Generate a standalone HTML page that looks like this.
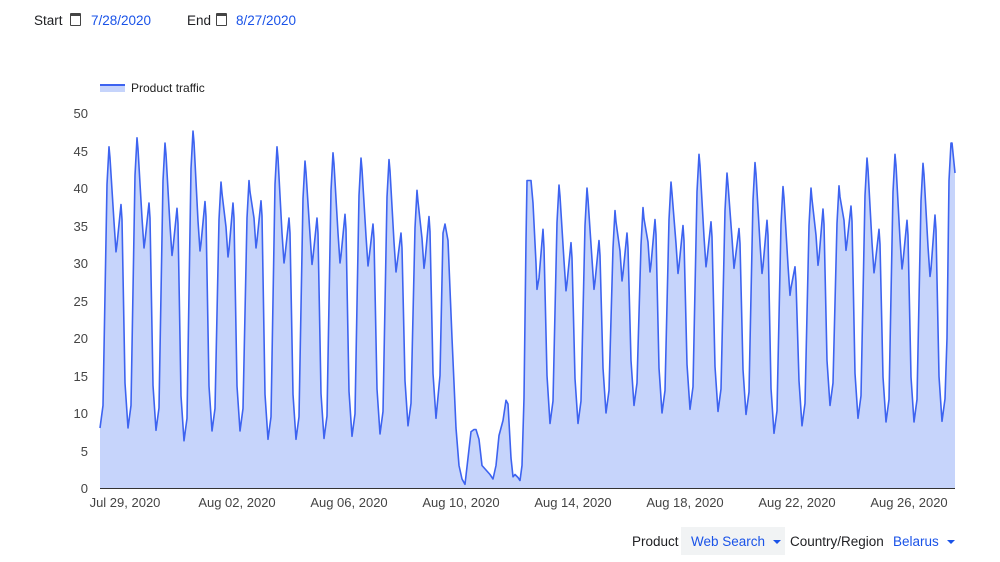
<!DOCTYPE html>
<html><head><meta charset="utf-8"><style>
body{margin:0;width:1000px;height:562px;background:#fff;font-family:"Liberation Sans",sans-serif;position:relative;overflow:hidden}
.t{position:absolute;font-size:13.5px;white-space:nowrap}
.lbl{color:#202124}.blue{color:#1a53e8}
.cal{display:inline-block;width:9px;height:9px;border:1.5px solid #444;border-top-width:3px;border-radius:1px;vertical-align:-1px}
.tri{display:inline-block;width:0;height:0;border-left:4px solid transparent;border-right:4px solid transparent;border-top:4px solid #1a53e8;vertical-align:2px;margin-left:8px}
</style></head><body>
<div class="t lbl" style="left:34px;top:13px">Start</div>
<div class="t" style="left:70px;top:13px"><span class="cal"></span></div>
<div class="t blue" style="left:91px;top:13px">7/28/2020</div>
<div class="t lbl" style="left:187px;top:13px">End</div>
<div class="t" style="left:216px;top:13px"><span class="cal"></span></div>
<div class="t blue" style="left:236px;top:13px">8/27/2020</div>
<svg width="1000" height="562" style="position:absolute;left:0;top:0" font-family="Liberation Sans, sans-serif">
<rect x="100" y="84" width="25" height="8" fill="#c6d4fb"/><line x1="100" y1="85" x2="125" y2="85" stroke="#3d63f0" stroke-width="2"/>
<text x="131" y="92" font-size="12" fill="#222">Product traffic</text>
<g font-size="13" fill="#444" text-anchor="end">
<text x="88" y="118">50</text><text x="88" y="156">45</text><text x="88" y="193">40</text><text x="88" y="231">35</text><text x="88" y="268">30</text><text x="88" y="306">25</text><text x="88" y="343">20</text><text x="88" y="381">15</text><text x="88" y="418">10</text><text x="88" y="456">5</text><text x="88" y="493">0</text>
</g>
<path id="area" fill="#c6d4fb" stroke="none"/>
<path id="line" fill="none" stroke="#3d63f0" stroke-width="1.6" stroke-linejoin="round"/>
<line x1="100" y1="488.5" x2="955" y2="488.5" stroke="#333" stroke-width="1"/>
<g font-size="13" fill="#444" text-anchor="middle">
<text x="125" y="507">Jul 29, 2020</text><text x="237" y="507">Aug 02, 2020</text><text x="349" y="507">Aug 06, 2020</text><text x="461" y="507">Aug 10, 2020</text><text x="573" y="507">Aug 14, 2020</text><text x="685" y="507">Aug 18, 2020</text><text x="797" y="507">Aug 22, 2020</text><text x="909" y="507">Aug 26, 2020</text>
</g>
</svg>
<div class="t lbl" style="left:632px;top:534px">Product</div>
<div style="position:absolute;left:681px;top:527px;width:104px;height:28px;background:#f1f3f4"></div>
<div class="t blue" style="left:691px;top:534px">Web Search<span class="tri"></span></div>
<div class="t lbl" style="left:790px;top:534px">Country/Region</div>
<div class="t blue" style="left:893px;top:534px">Belarus<span class="tri"></span></div>
<script>
var Y=function(v){return 488-v*7.5};
var days=[[45.5,31.5,37.8,8],[46.7,32,38,7.7],[46,31,37.3,6.3],[47.6,31.6,38.2,7.6],[40.8,30.8,38,7.6],[41,32,38.3,6.5],[45.5,30,36,6.5],[43.6,29.8,36,6.6],[44.7,30,36.5,6.9],[44,29.6,35.2,7.2],[43.8,28.8,34,8.3],[39.7,29.3,36.2,9.3]];
var pts=[[100,8]];
function day(x0,p,d,q,mn,m0){pts.push([x0+3,m0+3],[x0+7,p-5],[x0+9,p],[x0+10,p-1.5],[x0+14,d+4],[x0+16,d],[x0+17,d+1],[x0+21,q],[x0+22,q-2],[x0+25,mn+6],[x0+28,mn]);}
var m0=8;
days.forEach(function(a,k){day(100+28*k,a[0],a[1],a[2],a[3],m0);m0=a[3];});
pts.push([440,15],[443,34],[445,35.2],[448,33],[452,20],[456,8],[459,3],[462,1.2],[465,0.5],[468,4],[471,7.5],[474,7.8],[476,7.8],[479,6.5],[482,3],[486,2.4],[490,1.8],[493,1.2],[496,3],[499,7],[503,9],[506,11.7],[508,11.2],[511,4],[513,1.5],[515,1.8],[518,1.4],[520,1],[522,3],[524,12],[526,33],[527,41],[531,41]);
var d2=[[26.5,34.5,8.6],[40.4,26.3,32.7,8.6],[40,26.5,33,10],[37,27.6,34,11],[37.4,28.8,35.8,10],[40.8,28.6,35,10.5],[44.5,29.5,35.5,10.2],[42,29.3,34.6,9.8],[43.4,28.6,35.7,7.3],[40.2,25.7,29.5,8.3],[40,29.7,37.2,11],[40.3,31.7,37.6,9.3],[44,28.7,34.5,8.8],[44.5,29.2,35.7,8.8],[43.3,28.2,36.4,8.9]];
pts.push([533,38],[536,30],[537,26.5],[539,28],[543,34.5],[544,32],[547,15],[550,8.6]);
m0=8.6;
for(var k=1;k<d2.length;k++){var a=d2[k];day(550+28*(k-1),a[0],a[1],a[2],a[3],m0);m0=a[3];}
var x0=942;pts.push([x0+3,m0+3],[x0+5,20],[x0+7,41],[x0+9,46],[x0+10,46],[955,42]);
var s=pts.map(function(p,i){return (i?'L':'M')+p[0].toFixed(1)+' '+Y(p[1]).toFixed(1)}).join('');
document.getElementById('line').setAttribute('d',s);
document.getElementById('area').setAttribute('d',s+'L955 488L100 488Z');
</script>
</body></html>
